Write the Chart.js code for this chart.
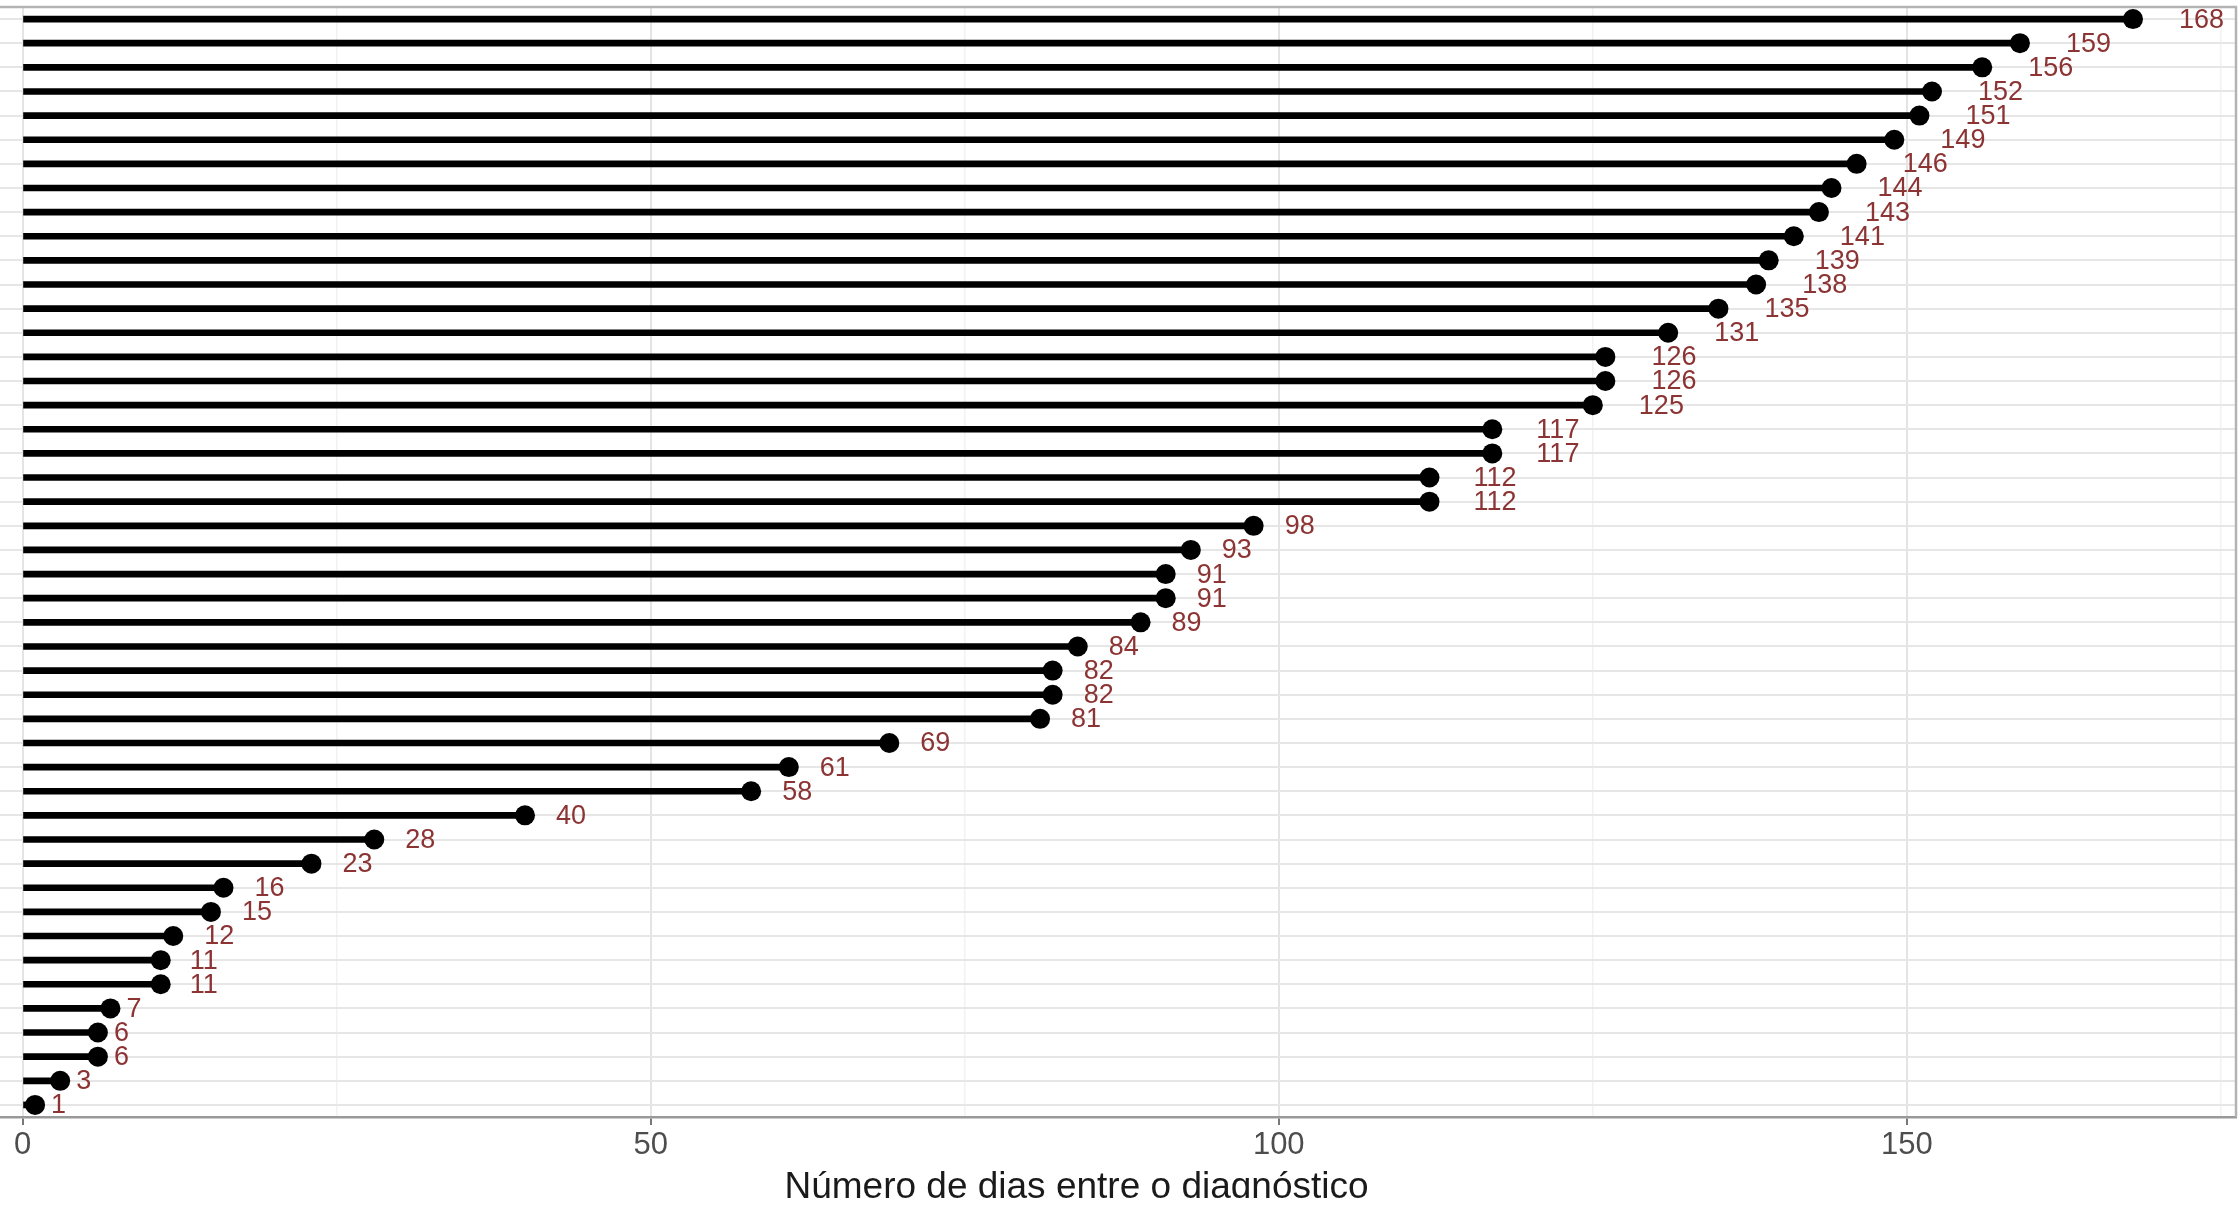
<!DOCTYPE html>
<html>
<head>
<meta charset="utf-8">
<script src="https://cdn.jsdelivr.net/npm/chart.js@4.4.1/dist/chart.umd.min.js"></script>
<style>
  html, body { margin: 0; padding: 0; background: #fff; overflow: hidden; width: 2240px; height: 1210px; }
  /* the panel continues past the left edge and the title is cut at the bottom, like the cropped original */
  #clip { position: absolute; left: 0; top: 0; width: 2240px; height: 1198px; overflow: hidden; }
  #wrap { position: absolute; left: -83px; top: 0; width: 2323px; height: 1240px; }
</style>
</head>
<body>
<div id="clip"><div id="wrap"><canvas id="chart" width="2323" height="1240"></canvas></div></div>
<script>
// Data (top row first)
const pacientes = ['P01', 'P02', 'P03', 'P04', 'P05', 'P06', 'P07', 'P08', 'P09', 'P10',
                   'P11', 'P12', 'P13', 'P14', 'P15', 'P16', 'P17', 'P18', 'P19', 'P20',
                   'P21', 'P22', 'P23', 'P24', 'P25', 'P26', 'P27', 'P28', 'P29', 'P30',
                   'P31', 'P32', 'P33', 'P34', 'P35', 'P36', 'P37', 'P38', 'P39', 'P40',
                   'P41', 'P42', 'P43', 'P44', 'P45', 'P46'];
const dias = [168, 159, 156, 152, 151, 149, 146, 144, 143, 141,
              139, 138, 135, 131, 126, 126, 125, 117, 117, 112,
              112, 98, 93, 91, 91, 89, 84, 82, 82, 81,
              69, 61, 58, 40, 28, 23, 16, 15, 12, 11,
              11, 7, 6, 6, 3, 1];
const marcasX = [0, 25, 50, 75, 100, 125, 150, 175];
const tituloX = 'Número de dias entre o diagnóstico';

const fonte = '"Liberation Sans", Arial, sans-serif';

// Value labels next to each dot
const rotulos = {
    id: 'rotulos',
    afterDatasetsDraw(chart) {
        const { ctx, scales: { x, y } } = chart;
        ctx.save();
        ctx.font = '27px ' + fonte;
        ctx.fillStyle = '#8c3333';
        ctx.textAlign = 'left';
        ctx.textBaseline = 'middle';
        dias.forEach((v, i) => {
            const t = String(v);
            const w = ctx.measureText(t).width;
            ctx.fillText(t, x.getPixelForValue(v) + w + 1, y.getPixelForValue(i) + 1);
        });
        ctx.restore();
    }
};

// Panel border (top and right)
const moldura = {
    id: 'moldura',
    afterDraw(chart) {
        const { ctx, chartArea: a } = chart;
        ctx.save();
        ctx.strokeStyle = '#b3b3b3';
        ctx.lineWidth = 2.5;
        ctx.beginPath();
        ctx.moveTo(a.left, a.top);
        ctx.lineTo(a.right, a.top);
        ctx.lineTo(a.right, a.bottom);
        ctx.stroke();
        ctx.restore();
    }
};

const ctx = document.getElementById('chart').getContext('2d');
new Chart(ctx, {
    data: {
        labels: pacientes,
        datasets: [
            {
                type: 'bar',
                indexAxis: 'y',
                data: dias,
                backgroundColor: '#000',
                barThickness: 6,
                borderSkipped: false,
                order: 2
            },
            {
                type: 'line',
                indexAxis: 'y',
                data: dias,
                showLine: false,
                pointRadius: 10,
                pointBackgroundColor: '#000',
                pointBorderWidth: 0,
                order: 1
            }
        ]
    },
    options: {
        indexAxis: 'y',
        responsive: false,
        animation: false,
        layout: { autoPadding: false, padding: { top: 7, right: 4, left: 0, bottom: 0 } },
        plugins: {
            legend: { display: false },
            tooltip: { enabled: false }
        },
        scales: {
            x: {
                type: 'linear',
                min: -8.4,
                max: 176.2,
                afterBuildTicks(axis) {
                    axis.ticks = marcasX.map(v => ({ value: v }));
                },
                afterFit(scale) {
                    scale.height = 123;
                },
                grid: {
                    color: c => (c.tick && c.tick.value % 50 === 0) ? '#e4e4e4' : '#f2f2f2',
                    lineWidth: c => (c.tick && c.tick.value % 50 === 0) ? 2 : 1.5,
                    tickColor: c => (c.tick && c.tick.value % 50 === 0) ? '#777' : 'rgba(0,0,0,0)',
                    tickLength: 8,
                    tickWidth: 2
                },
                border: { display: true, color: '#999', width: 2.5 },
                ticks: {
                    autoSkip: false,
                    maxRotation: 0,
                    padding: 2,
                    color: '#4d4d4d',
                    font: { family: fonte, size: 31 },
                    callback: v => (v % 50 === 0 ? String(v) : '')
                },
                title: {
                    display: true,
                    text: tituloX,
                    color: '#1a1a1a',
                    font: { family: fonte, size: 37 },
                    padding: { top: 0, bottom: 30 }
                }
            },
            y: {
                type: 'category',
                offset: true,
                afterFit(scale) {
                    scale.width = 0;
                },
                grid: { offset: false, color: '#e6e6e6', lineWidth: 2, drawTicks: false },
                border: { display: false },
                ticks: { display: false }
            }
        }
    },
    plugins: [rotulos, moldura]
});
</script>
</body>
</html>
